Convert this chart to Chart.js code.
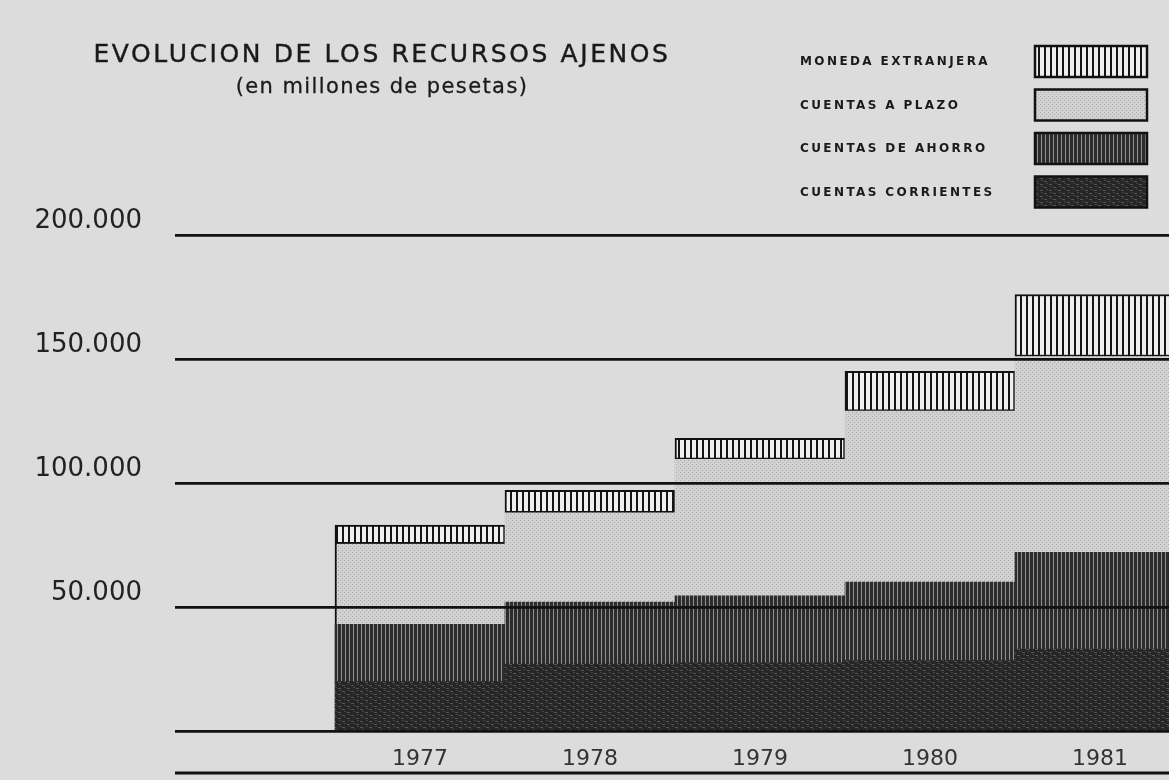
<!DOCTYPE html>
<html>
<head>
<meta charset="utf-8">
<script src="https://cdn.jsdelivr.net/npm/chart.js@4/dist/chart.umd.min.js"></script>
<style>
  body { margin: 0; background: #dcdcdc; overflow: hidden; }
  #wrap { position: relative; width: 1169px; height: 780px; }
  .title { position: absolute; left: 82px; width: 600px; text-align: center; color: #1a1a1a; font-family: "DejaVu Sans", sans-serif; white-space: nowrap; }
  #t1 { top: 39px; font-size: 25px; letter-spacing: 2.6px; -webkit-text-stroke: 0.4px #1a1a1a; }
  #t2 { top: 74px; font-size: 21px; letter-spacing: 1.4px; -webkit-text-stroke: 0.3px #1a1a1a; }
</style>
</head>
<body>
<div id="wrap">
  <canvas id="myChart"></canvas>
  <div class="title" id="t1">EVOLUCION DE LOS RECURSOS AJENOS</div>
  <div class="title" id="t2">(en millones de pesetas)</div>
</div>
<script>
// data (millones de pesetas)
const years = [1977, 1978, 1979, 1980, 1981];
const seriesNames = ['CUENTAS CORRIENTES', 'CUENTAS DE AHORRO', 'CUENTAS A PLAZO', 'MONEDA EXTRANJERA'];
const corrientes = [20000, 27000, 27500, 28500, 33000];
const ahorro = [23000, 25000, 27000, 31500, 39000];
const plazo = [32500, 36000, 55000, 69000, 79000];
const moneda = [7500, 9000, 8500, 16000, 25000];
const yTicks = [0, 50000, 100000, 150000, 200000];

const canvas = document.getElementById('myChart');
const ctx = canvas.getContext('2d');

// small tiles used as fill patterns
function pattern(w, h, draw) {
  const c = document.createElement('canvas');
  c.width = w; c.height = h;
  draw(c.getContext('2d'));
  return ctx.createPattern(c, 'repeat');
}
const monedaFill = pattern(6, 6, g => {
  g.fillStyle = '#efefef'; g.fillRect(0, 0, 6, 6);
  g.fillStyle = '#151515'; g.fillRect(0, 0, 2, 6);
});
const plazoFill = pattern(4, 4, g => {
  g.fillStyle = '#d2d2d2'; g.fillRect(0, 0, 4, 4);
  g.fillStyle = '#a8a8a8'; g.fillRect(0, 0, 1, 1); g.fillRect(2, 2, 1, 1);
});
const ahorroFill = pattern(4, 4, g => {
  g.fillStyle = '#2c2c2c'; g.fillRect(0, 0, 4, 4);
  g.fillStyle = '#8f8f8f'; g.fillRect(1, 0, 1, 4);
});
const corrFill = pattern(9, 6, g => {
  g.fillStyle = '#262626'; g.fillRect(0, 0, 9, 6);
  g.fillStyle = '#555'; g.fillRect(0, 1, 3, 1); g.fillRect(5, 4, 3, 1);
  g.fillStyle = '#444'; g.fillRect(6, 0, 2, 1); g.fillRect(2, 3, 2, 1);
});

const pts = arr => years.map((y, i) => ({ x: y, y: arr[i] }));

const extras = {
  id: 'extras',
  afterDraw(chart) {
    const { ctx, chartArea, scales } = chart;
    ctx.save();
    // line under the year labels
    ctx.strokeStyle = '#111';
    ctx.lineWidth = 3;
    ctx.beginPath();
    ctx.moveTo(chartArea.left, scales.x.bottom - 7);
    ctx.lineTo(chartArea.right, scales.x.bottom - 7);
    ctx.stroke();
    // legend: text left, swatch right
    const order = [3, 2, 1, 0];
    ctx.font = 'bold 12px "DejaVu Sans"';
    ctx.letterSpacing = '2.4px';
    ctx.textBaseline = 'middle';
    ctx.textAlign = 'left';
    order.forEach((di, i) => {
      const ds = chart.data.datasets[di];
      const top = 46 + i * 43.5;
      ctx.fillStyle = '#1a1a1a';
      ctx.fillText(ds.label, 800, top + 16);
      ctx.fillStyle = ds.backgroundColor;
      ctx.fillRect(1035, top, 112, 31);
      ctx.lineWidth = 2.5;
      ctx.strokeStyle = '#111';
      ctx.strokeRect(1035, top, 112, 31);
    });
    ctx.restore();
  }
};

new Chart(canvas, {
  type: 'bar',
  data: {
    datasets: [
      { label: seriesNames[0], data: pts(corrientes), backgroundColor: corrFill, borderWidth: 0 },
      { label: seriesNames[1], data: pts(ahorro), backgroundColor: ahorroFill, borderWidth: 0 },
      {
        label: seriesNames[2], data: pts(plazo), backgroundColor: plazoFill, borderColor: '#111',
        borderSkipped: false,
        borderWidth: c => c.dataIndex === 0 ? { left: 2, top: 0, right: 0, bottom: 0 } : 0
      },
      { label: seriesNames[3], data: pts(moneda), backgroundColor: monedaFill, borderColor: '#111', borderWidth: 2, borderSkipped: false }
    ]
  },
  options: {
    responsive: true,
    maintainAspectRatio: false,
    animation: false,
    barPercentage: 1,
    categoryPercentage: 1,
    layout: { padding: { top: 235, left: 0, right: 0, bottom: 0 } },
    plugins: { legend: { display: false }, tooltip: { enabled: false } },
    scales: {
      x: {
        type: 'linear',
        stacked: true,
        offset: false,
        bounds: 'data',
        min: 1975.559,
        max: 1981.406,
        afterFit: s => { s.height = 49; },
        afterBuildTicks: s => { s.ticks = [1976].concat(years).map(v => ({ value: v })); },
        grid: { display: false },
        border: { display: false },
        ticks: {
          autoSkip: false,
          maxRotation: 0,
          padding: 7,
          color: '#333',
          font: { family: 'DejaVu Sans', size: 22 },
          callback: v => years.includes(v) ? String(v) : ''
        }
      },
      y: {
        stacked: true,
        min: yTicks[0],
        max: yTicks[yTicks.length - 1],
        afterFit: s => { s.width = 175; },
        afterBuildTicks: s => { s.ticks = yTicks.map(v => ({ value: v })); },
        grid: { color: '#121212', lineWidth: 2.8, drawTicks: false, z: 1 },
        border: { display: false },
        ticks: {
          padding: 33,
          labelOffset: -14,
          color: '#222',
          font: { family: 'DejaVu Sans', size: 26 },
          callback: v => v === 0 ? '' : v.toLocaleString('de-DE')
        }
      }
    }
  },
  plugins: [extras]
});
</script>
</body>
</html>
